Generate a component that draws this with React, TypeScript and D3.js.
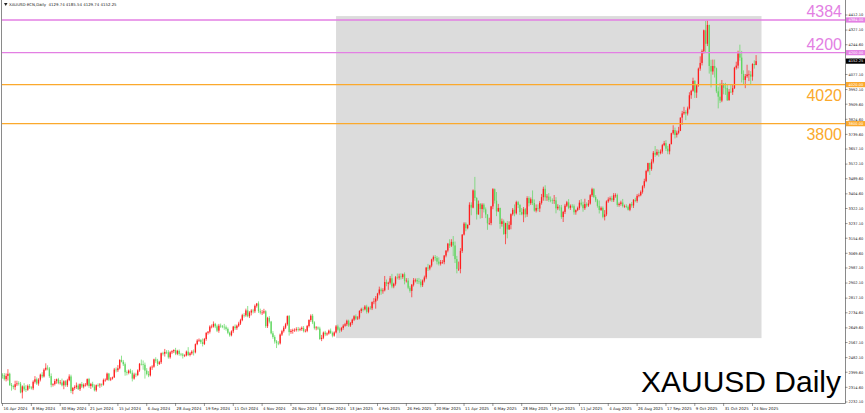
import React, { useRef, useEffect } from 'react';
import * as d3 from 'd3';

// Daily closes of XAUUSD, 16 Apr 2024 – 26 Nov 2025 (one value per bar)
const closes = [
  // Apr 2024
  2383, 2361, 2379, 2391, 2327, 2322, 2316, 2332, 2337, 2335, 2286,
  // May 2024
  2320, 2303, 2301, 2323, 2314, 2309, 2346, 2360, 2336, 2358, 2386, 2376, 2414, 2425, 2421, 2378, 2329, 2333, 2350, 2360, 2338, 2342, 2326,
  // Jun 2024
  2349, 2327, 2355, 2376, 2294, 2311, 2316, 2325, 2304, 2333, 2319, 2329, 2329, 2361, 2322, 2334, 2319, 2298, 2327, 2326,
  // Jul 2024
  2331, 2330, 2356, 2357, 2392, 2358, 2364, 2371, 2415, 2411, 2422, 2469, 2459, 2445, 2400, 2396, 2409, 2397, 2364, 2387, 2384, 2410, 2447,
  // Aug 2024
  2446, 2442, 2409, 2390, 2382, 2427, 2431, 2472, 2465, 2447, 2456, 2507, 2504, 2514, 2512, 2484, 2512, 2518, 2525, 2504, 2520, 2503,
  // Sep 2024
  2500, 2493, 2495, 2516, 2497, 2506, 2516, 2512, 2558, 2578, 2582, 2569, 2559, 2587, 2622, 2628, 2657, 2657, 2672, 2658, 2634,
  // Oct 2024
  2662, 2658, 2656, 2653, 2644, 2622, 2608, 2630, 2657, 2648, 2662, 2674, 2693, 2721, 2720, 2748, 2715, 2736, 2747, 2743, 2774, 2787, 2744,
  // Nov 2024
  2736, 2736, 2743, 2659, 2706, 2685, 2619, 2598, 2573, 2565, 2562, 2612, 2631, 2651, 2670, 2716, 2626, 2633, 2637, 2639, 2643,
  // Dec 2024
  2639, 2643, 2650, 2632, 2633, 2660, 2694, 2718, 2681, 2648, 2652, 2646, 2587, 2594, 2623, 2613, 2618, 2634, 2621, 2606, 2624,
  // Jan 2025
  2658, 2640, 2636, 2649, 2662, 2670, 2690, 2663, 2677, 2696, 2715, 2702, 2708, 2745, 2755, 2754, 2770, 2740, 2763, 2760, 2795, 2798,
  // Feb 2025
  2815, 2843, 2866, 2856, 2861, 2908, 2898, 2904, 2929, 2883, 2898, 2935, 2933, 2939, 2936, 2952, 2915, 2916, 2876, 2858,
  // Mar 2025
  2893, 2918, 2920, 2911, 2910, 2890, 2916, 2934, 2989, 2984, 3001, 3035, 3048, 3044, 3023, 3011, 3020, 3020, 3057, 3085, 3124,
  // Apr 2025
  3113, 3134, 3114, 3037, 2982, 2982, 3083, 3175, 3237, 3211, 3230, 3343, 3327, 3424, 3381, 3289, 3348, 3319, 3344, 3317, 3288,
  // May 2025
  3239, 3240, 3334, 3431, 3366, 3306, 3325, 3235, 3250, 3178, 3240, 3204, 3230, 3290, 3315, 3295, 3358, 3342, 3302, 3289, 3318, 3289,
  // Jun 2025
  3381, 3352, 3374, 3353, 3310, 3325, 3322, 3354, 3386, 3433, 3385, 3389, 3370, 3369, 3368, 3368, 3323, 3332, 3328, 3274, 3303,
  // Jul 2025
  3338, 3357, 3326, 3337, 3335, 3301, 3313, 3325, 3355, 3344, 3324, 3347, 3339, 3350, 3397, 3431, 3387, 3368, 3337, 3314, 3326, 3275, 3289,
  // Aug 2025
  3362, 3373, 3380, 3369, 3397, 3398, 3342, 3348, 3356, 3336, 3336, 3332, 3315, 3347, 3339, 3371, 3365, 3393, 3397, 3416, 3447,
  // Sep 2025
  3476, 3533, 3578, 3545, 3586, 3636, 3625, 3641, 3634, 3643, 3679, 3690, 3659, 3644, 3685, 3746, 3764, 3736, 3749, 3760, 3834, 3858,
  // Oct 2025
  3866, 3857, 3886, 3960, 3985, 4041, 3975, 4017, 4110, 4142, 4208, 4326, 4250, 4356, 4125, 4094, 4125, 4112, 3982, 3952, 3930, 4025, 4002,
  // Nov 2025
  4001, 3932, 3980, 3977, 4000, 4115, 4127, 4195, 4172, 4080, 4046, 4067, 4077, 4077, 4065, 4136, 4130, 4152.25,
];

// distance from the body top to the high, per bar (USD)
const wickUp = [
  9, 12, 14, 26, 6, 12, 8, 20, 15, 12, 10,
  6, 18, 24, 8, 10, 7, 8, 18, 10, 8, 6, 14, 8, 25, 14, 8, 15, 5, 12, 4, 8, 14, 22,
  6, 6, 8, 12, 10, 6, 10, 17, 10, 4, 12, 8, 10, 4, 7, 6, 12, 12, 4, 10,
  8, 6, 8, 8, 6, 4, 8, 4, 9, 12, 18, 4, 24, 10, 10, 10, 6, 10, 14, 10, 10, 6, 5,
  24, 20, 12, 14, 16, 6, 8, 4, 12, 10, 8, 4, 8, 17, 10, 12, 6, 6, 4, 12, 6, 8,
  6, 8, 6, 6, 25, 8, 8, 12, 4, 8, 8, 4, 21, 6, 3, 4, 7, 12, 14, 6, 10,
  10, 12, 8, 16, 10, 8, 6, 6, 4, 12, 6, 10, 8, 8, 12, 10, 25, 8, 8, 10, 8, 3, 12,
  14, 14, 14, 6, 6, 10, 4, 12, 10, 8, 10, 6, 8, 10, 8, 4, 6, 10, 8, 8, 10,
  12, 8, 8, 10, 10, 6, 4, 8, 10, 6, 8, 6, 10, 16, 6, 10, 6, 6, 12, 8, 6,
  8, 10, 12, 6, 8, 8, 6, 6, 6, 6, 6, 10, 8, 4, 8, 10, 8, 10, 6, 10, 4, 19,
  14, 4, 16, 10, 12, 34, 14, 6, 13, 25, 6, 7, 21, 16, 18, 4, 10, 14, 14, 10,
  4, 12, 8, 10, 20, 14, 6, 10, 4, 21, 4, 4, 9, 12, 10, 24, 12, 12, 3, 2, 4,
  25, 15, 33, 22, 18, 41, 16, 3, 8, 8, 2, 14, 14, 6, 76, 5, 19, 5, 8, 8, 11,
  2, 30, 3, 6, 4, 49, 23, 2, 15, 10, 2, 12, 20, 5, 10, 30, 8, 7, 6, 23, 12, 7,
  10, 10, 10, 50, 20, 20, 20, 10, 18, 12, 20, 14, 20, 20, 10, 30, 18, 14, 10, 14, 6,
  10, 8, 18, 8, 10, 10, 4, 8, 14, 20, 16, 30, 10, 20, 6, 8, 6, 10, 8, 30, 8, 8, 24,
  6, 12, 10, 14, 12, 10, 8, 8, 10, 20, 8, 10, 8, 4, 12, 4, 12, 10, 10, 8, 6,
  14, 7, 2, 2, 14, 10, 38, 15, 12, 12, 7, 13, 17, 16, 2, 3, 27, 14, 12, 22, 1, 14,
  29, 10, 10, 17, 6, 18, 4, 5, 6, 37, 10, 4, 53, 25, 2, 35, 36, 36, 4, 26, 78, 21, 3,
  28, 17, 15, 38, 20, 5, 22, 16, 50, 38, 20, 13, 55, 23, 19, 4, 21, 34,
];

// distance from the body bottom to the low, per bar (USD)
const wickDown = [
  19, 8, 13, 26, 4, 26, 12, 17, 10, 10, 5,
  34, 10, 13, 6, 8, 7, 10, 10, 8, 12, 10, 10, 6, 6, 10, 10, 14, 10, 8, 15, 6, 8, 6,
  22, 9, 10, 6, 12, 18, 10, 10, 4, 10, 8, 10, 10, 8, 10, 16, 6, 6, 8, 8,
  14, 12, 6, 10, 4, 8, 8, 6, 4, 12, 10, 6, 4, 10, 20, 14, 8, 6, 16, 6, 12, 6, 8,
  8, 28, 45, 8, 10, 6, 14, 6, 12, 12, 6, 10, 10, 16, 10, 8, 8, 10, 10, 8, 8, 10,
  10, 16, 8, 6, 6, 8, 8, 18, 6, 6, 8, 10, 14, 6, 10, 10, 10, 10, 6, 10, 8,
  12, 8, 8, 14, 10, 8, 8, 6, 10, 10, 10, 8, 8, 6, 12, 8, 6, 10, 16, 12, 10, 10, 10,
  10, 14, 8, 10, 10, 10, 6, 10, 12, 29, 10, 6, 8, 8, 8, 8, 20, 10, 16, 10, 10,
  10, 8, 10, 8, 8, 8, 8, 10, 10, 8, 12, 8, 5, 12, 8, 10, 8, 6, 6, 10, 6,
  6, 6, 14, 8, 10, 6, 10, 8, 8, 10, 8, 8, 8, 10, 12, 12, 6, 10, 8, 8, 10, 12,
  40, 12, 10, 20, 14, 6, 14, 34, 10, 10, 10, 10, 10, 12, 14, 10, 20, 10, 8, 10,
  36, 10, 12, 14, 14, 12, 10, 10, 10, 14, 10, 10, 12, 16, 16, 10, 10, 10, 12, 10, 10,
  13, 8, 60, 22, 25, 12, 25, 11, 5, 17, 6, 2, 43, 4, 15, 29, 2, 54, 51, 17, 20,
  37, 10, 12, 16, 16, 27, 4, 27, 15, 4, 57, 50, 2, 25, 8, 17, 7, 18, 17, 5, 44, 18,
  14, 18, 10, 12, 6, 10, 16, 20, 10, 20, 20, 20, 10, 12, 20, 20, 28, 10, 18, 10, 28,
  12, 8, 8, 12, 10, 14, 14, 6, 10, 10, 20, 10, 10, 8, 6, 10, 6, 10, 10, 20, 6, 8, 20,
  10, 8, 10, 10, 10, 14, 10, 10, 10, 8, 10, 8, 4, 8, 12, 14, 8, 10, 8, 6, 10,
  11, 6, 7, 34, 10, 10, 12, 5, 20, 7, 12, 6, 13, 16, 17, 2, 8, 19, 14, 9, 2, 41,
  8, 37, 11, 6, 20, 5, 30, 30, 9, 12, 14, 13, 50, 13, 43, 90, 18, 52, 10, 66, 14, 9, 37,
  39, 4, 2, 5, 15, 5, 10, 16, 17, 48, 26, 46, 9, 37, 43, 23, 20, 0,
];

const firstOpen = 2385;

// one date label every 16 bars
const dateLabels = [
  '16 Apr 2024', '8 May 2024', '30 May 2024', '21 Jun 2024', '15 Jul 2024', '6 Aug 2024',
  '28 Aug 2024', '19 Sep 2024', '11 Oct 2024', '4 Nov 2024', '26 Nov 2024', '18 Dec 2024',
  '13 Jan 2025', '4 Feb 2025', '26 Feb 2025', '20 Mar 2025', '11 Apr 2025', '6 May 2025',
  '28 May 2025', '19 Jun 2025', '11 Jul 2025', '4 Aug 2025', '26 Aug 2025', '17 Sep 2025',
  '9 Oct 2025', '31 Oct 2025', '24 Nov 2025',
];

const priceLabels = [
  4412.1, 4327.1, 4244.6, 4159.6, 4077.1, 3992.1, 3909.6, 3824.6, 3739.6, 3657.1, 3572.1,
  3489.6, 3404.6, 3322.1, 3237.1, 3154.6, 3069.6, 2987.1, 2902.1, 2817.1, 2734.6, 2649.6,
  2567.1, 2482.1, 2399.6, 2314.6, 2232.1,
];

const resistanceLevels = [4384, 4200];
const supportLevels = [4020, 3800];
const zoneBars = [185, 421];
const zonePrices = [2592, 4406];
const lastPrice = 4152.25;
const headerText = 'XAUUSD-ECN,Daily  4129.74 4185.54 4129.74 4152.25';
const titleText = 'XAUUSD Daily';

const W = 865;
const H = 413;
const RIGHT = 845;
const BOTTOM = 403;
const VIOLET = '#e37fe3';
const ORANGE = '#fba92c';
const BULL = '#ff1e1e';
const BEAR = '#5fd65f';

const App: React.FC = () => {
  const ref = useRef<SVGSVGElement | null>(null);

  useEffect(() => {
    if (!ref.current) return;
    const svg = d3.select(ref.current);
    svg.selectAll('*').remove();

    const x = d3.scaleLinear().domain([0, 416]).range([2.5, 752.5]);
    const y = d3.scaleLinear().domain([2232.1, 4412.1]).range([402, 15]);

    const bars = closes.map((c, i) => {
      const o = i === 0 ? firstOpen : closes[i - 1];
      const hi = Math.max(o, c) + (wickUp[i] ?? 0);
      const lo = Math.min(o, c) - (wickDown[i] ?? 0);
      return { i, o, c, hi, lo };
    });

    svg.append('rect').attr('width', W).attr('height', H).attr('fill', '#fff');

    // shaded zone
    svg
      .append('rect')
      .attr('x', x(zoneBars[0]))
      .attr('y', y(zonePrices[1]))
      .attr('width', x(zoneBars[1]) - x(zoneBars[0]))
      .attr('height', y(zonePrices[0]) - y(zonePrices[1]))
      .attr('fill', '#dcdcdc');

    // candles
    const g = svg.append('g');
    g.selectAll('line.wick')
      .data(bars)
      .enter()
      .append('line')
      .attr('x1', (d) => x(d.i))
      .attr('x2', (d) => x(d.i))
      .attr('y1', (d) => y(d.hi))
      .attr('y2', (d) => y(d.lo))
      .attr('stroke', (d) => (d.c >= d.o ? BULL : BEAR))
      .attr('stroke-width', 0.7);
    g.selectAll('rect.body')
      .data(bars)
      .enter()
      .append('rect')
      .attr('x', (d) => x(d.i) - 0.65)
      .attr('width', 1.3)
      .attr('y', (d) => y(Math.max(d.o, d.c)))
      .attr('height', (d) => Math.max(0.6, Math.abs(y(d.o) - y(d.c))))
      .attr('fill', (d) => (d.c >= d.o ? BULL : BEAR));

    // horizontal levels
    const levels = [
      ...resistanceLevels.map((p) => ({ p, color: VIOLET, dy: -2.5 })),
      ...supportLevels.map((p) => ({ p, color: ORANGE, dy: 16.5 })),
    ];
    levels.forEach((l) => {
      svg
        .append('line')
        .attr('x1', 1.5)
        .attr('x2', RIGHT)
        .attr('y1', y(l.p))
        .attr('y2', y(l.p))
        .attr('stroke', l.color)
        .attr('stroke-width', 1.3);
      svg
        .append('text')
        .attr('x', 842)
        .attr('y', y(l.p) + l.dy)
        .attr('text-anchor', 'end')
        .attr('font-family', 'Liberation Sans, Arial, sans-serif')
        .attr('font-size', 16)
        .attr('fill', l.color)
        .text(String(l.p));
    });

    // frame
    svg
      .append('path')
      .attr('d', `M1.5,0 V${BOTTOM + 0.5} H${RIGHT + 0.5} V0`)
      .attr('fill', 'none')
      .attr('stroke', '#8a8a8a')
      .attr('stroke-width', 1);

    // price axis
    const axis = svg.append('g').attr('font-family', 'DejaVu Sans, sans-serif');
    priceLabels.forEach((p) => {
      axis
        .append('line')
        .attr('x1', RIGHT)
        .attr('x2', RIGHT + 2.5)
        .attr('y1', y(p))
        .attr('y2', y(p))
        .attr('stroke', '#555')
        .attr('stroke-width', 0.6);
      axis
        .append('text')
        .attr('x', RIGHT + 3.5)
        .attr('y', y(p) + 1.3)
        .attr('font-size', 3.6)
        .attr('fill', '#222')
        .text(p.toFixed(2));
    });

    const tag = (p: number, bg: string) => {
      axis
        .append('rect')
        .attr('x', RIGHT + 1)
        .attr('y', y(p) - 2.6)
        .attr('width', W - RIGHT - 1)
        .attr('height', 5.2)
        .attr('fill', bg);
      axis
        .append('text')
        .attr('x', RIGHT + 3.5)
        .attr('y', y(p) + 1.3)
        .attr('font-size', 3.6)
        .attr('fill', '#fff')
        .text(p.toFixed(2));
    };
    resistanceLevels.forEach((p) => tag(p, VIOLET));
    supportLevels.forEach((p) => tag(p, ORANGE));
    tag(lastPrice, '#000');

    // date axis
    dateLabels.forEach((lab, k) => {
      const xx = x(k * 16);
      axis
        .append('line')
        .attr('x1', xx)
        .attr('x2', xx)
        .attr('y1', BOTTOM)
        .attr('y2', BOTTOM + 3)
        .attr('stroke', '#555')
        .attr('stroke-width', 0.6);
      axis
        .append('text')
        .attr('x', xx + 1)
        .attr('y', BOTTOM + 6.5)
        .attr('font-size', 3.9)
        .attr('fill', '#222')
        .text(lab);
    });

    // header
    svg
      .append('path')
      .attr('d', 'M4,3 L7.5,3 L5.75,6 Z')
      .attr('fill', '#222');
    svg
      .append('text')
      .attr('x', 9)
      .attr('y', 6)
      .attr('font-family', 'DejaVu Sans, sans-serif')
      .attr('font-size', 3.9)
      .attr('fill', '#222')
      .attr('xml:space', 'preserve')
      .text(headerText);

    // title
    svg
      .append('text')
      .attr('x', 841)
      .attr('y', 392)
      .attr('text-anchor', 'end')
      .attr('font-family', 'Liberation Sans, Arial, sans-serif')
      .attr('font-size', 30)
      .attr('fill', '#000')
      .text(titleText);
  }, []);

  return (
    <svg
      ref={ref}
      width={W}
      height={H}
      style={{ position: 'fixed', left: 0, top: 0, display: 'block' }}
    />
  );
};

export default App;
